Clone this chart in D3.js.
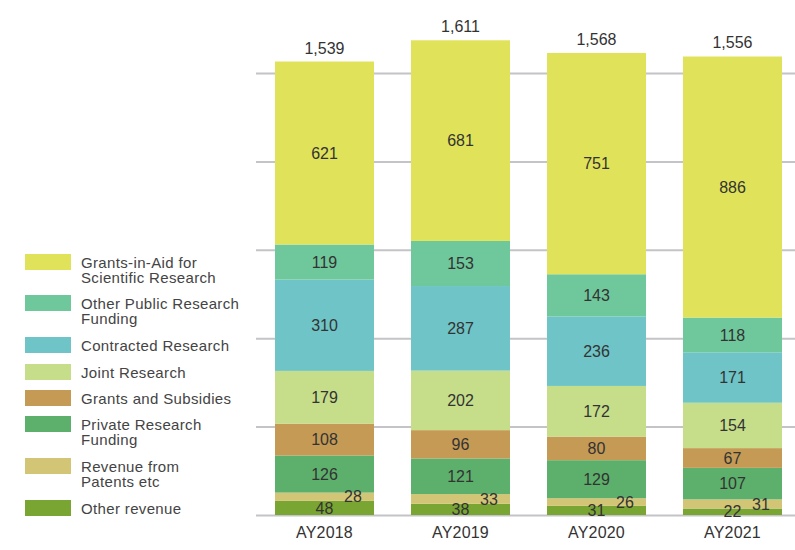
<!DOCTYPE html>
<html>
<head>
<meta charset="utf-8">
<script src="https://cdn.jsdelivr.net/npm/d3@7"></script>
<style>
	body { margin: 0; background: #fff; }
	svg { display: block; font-family: "Liberation Sans", Arial, Helvetica, sans-serif; }
	.grid line { stroke: #c4c4c8; stroke-width: 2; }
	.grid .domain, .grid text { display: none; }
	.vals text { fill: #333; font-size: 16px; }
</style>
</head>
<body>
<svg width="795" height="550"></svg>
<script>
// data........................................................................

var years = ["AY2018", "AY2019", "AY2020", "AY2021"];

var seriesNames = [
	"Grants-in-Aid for Scientific Research",
	"Other Public Research Funding",
	"Contracted Research",
	"Joint Research",
	"Grants and Subsidies",
	"Private Research Funding",
	"Revenue from Patents etc",
	"Other revenue"
];

// legend text split over lines as in the original
var legendLines = [
	["Grants-in-Aid for", "Scientific Research"],
	["Other Public Research", "Funding"],
	["Contracted Research"],
	["Joint Research"],
	["Grants and Subsidies"],
	["Private Research", "Funding"],
	["Revenue from", "Patents etc"],
	["Other revenue"]
];

var grantsInAid = [621, 681, 751, 886],
	otherPublic = [119, 153, 143, 118],
	contracted  = [310, 287, 236, 171],
	joint       = [179, 202, 172, 154],
	subsidies   = [108, 96, 80, 67],
	privateFund = [126, 121, 129, 107],
	patents     = [28, 33, 26, 31],
	otherRev    = [48, 38, 31, 22];

var colors = ["#e0e35a", "#6fc89b", "#6ec4c6", "#c6de8a",
	"#c49a55", "#5db06b", "#d2c575", "#79a532"];

var gridTicks = [0, 300, 600, 900, 1200, 1500];

// stacking order: bottom first
var stackOrder = [otherRev, patents, privateFund, subsidies, joint, contracted, otherPublic, grantsInAid];
var keys = seriesNames.slice().reverse();

var table = years.map(function(y, i) {
	var row = {year: y};
	keys.forEach(function(k, j) { row[k] = stackOrder[j][i]; });
	return row;
});

// scales......................................................................

var svg = d3.select("svg");

var x = d3.scaleBand()
	.domain(years)
	.range([256.5, 800.5])
	.paddingInner(0.272)
	.paddingOuter(0.136);

var y = d3.scaleLinear()
	.domain([0, 1500])
	.range([515, 73]);

var color = d3.scaleOrdinal().domain(seriesNames).range(colors);

// gridlines
svg.append("g")
	.attr("class", "grid")
	.attr("transform", "translate(256,0)")
	.call(d3.axisRight(y).tickValues(gridTicks).tickSize(539).tickFormat(""));

// bars........................................................................

var stacked = d3.stack().keys(keys)(table);

var layers = svg.append("g").selectAll("g")
	.data(stacked)
	.enter().append("g")
		.attr("fill", function(d) { return color(d.key); });

layers.selectAll("rect")
	.data(function(d) { return d; })
	.enter().append("rect")
		.attr("x", function(d) { return x(d.data.year); })
		.attr("width", x.bandwidth())
		.attr("y", function(d) { return y(d[1]); })
		.attr("height", function(d) { return y(d[0]) - y(d[1]); });

// segment labels
var vals = svg.append("g").attr("class", "vals");
stacked.forEach(function(layer) {
	var shift = layer.key == "Revenue from Patents etc" ? 28.5 : 0;
	vals.selectAll(null)
		.data(layer)
		.enter().append("text")
			.attr("x", function(d) { return x(d.data.year) + x.bandwidth() / 2 + shift; })
			.attr("y", function(d) { return (y(d[0]) + y(d[1])) / 2; })
			.attr("dy", "0.35em")
			.attr("text-anchor", "middle")
			.text(function(d) { return d[1] - d[0]; });
});

// totals
var totals = table.map(function(r) { return d3.sum(keys, function(k) { return r[k]; }); });
svg.append("g").selectAll("text")
	.data(totals)
	.enter().append("text")
		.attr("x", function(d, i) { return x(years[i]) + x.bandwidth() / 2; })
		.attr("y", function(d) { return y(d) - 8; })
		.attr("text-anchor", "middle")
		.attr("fill", "#333")
		.style("font-size", "16px")
		.text(d3.format(","));

// x axis labels
svg.append("g").selectAll("text")
	.data(years)
	.enter().append("text")
		.attr("x", function(d) { return x(d) + x.bandwidth() / 2; })
		.attr("y", 538)
		.attr("text-anchor", "middle")
		.attr("fill", "#333")
		.style("font-size", "16px")
		.style("letter-spacing", "0.2px")
		.text(function(d) { return d; });

// legend......................................................................

var legendTop = [254, 295, 337, 364, 390, 416, 458, 500];

var legend = svg.append("g").selectAll("g")
	.data(seriesNames)
	.enter().append("g")
		.attr("transform", function(d, i) { return "translate(25," + legendTop[i] + ")"; });

legend.append("rect")
	.attr("width", 46)
	.attr("height", 16)
	.attr("fill", function(d) { return color(d); });

legend.append("text")
	.attr("x", 56)
	.attr("y", 13.5)
	.attr("fill", "#444")
	.style("font-size", "15px")
	.style("letter-spacing", "0.35px")
	.selectAll("tspan")
	.data(function(d, i) { return legendLines[i]; })
	.enter().append("tspan")
		.attr("x", 56)
		.attr("dy", function(d, i) { return i ? 15.7 : 0; })
		.text(function(d) { return d; });
</script>
</body>
</html>
